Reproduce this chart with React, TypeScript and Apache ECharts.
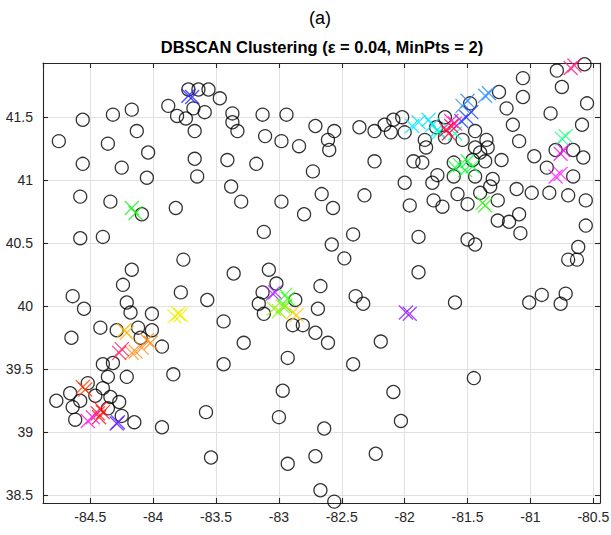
import React, { useEffect, useRef } from "react";
import * as echarts from "echarts";

const SUPTITLE = "(a)";
const TITLE = "DBSCAN Clustering (ε = 0.04, MinPts = 2)";

const LON_MIN = -84.876;
const LON_MAX = -80.447;
const LAT_MIN = 38.439;
const LAT_MAX = 41.93;

// Noise points (longitude, latitude) drawn as open circles
const noisePoints: [number, number][] = [
  [-84.75, 41.31], [-84.56, 41.48], [-84.32, 41.52], [-84.17, 41.56], [-84.36, 41.29],
  [-84.13, 41.39], [-84.04, 41.22], [-84.56, 41.13], [-84.25, 41.1], [-84.05, 41.02],
  [-84.58, 40.87], [-84.34, 40.83], [-84.09, 40.73], [-83.82, 40.78], [-84.58, 40.54],
  [-84.4, 40.55], [-83.76, 40.37], [-84.17, 40.29], [-84.24, 40.17], [-83.72, 41.72],
  [-83.64, 41.72], [-83.56, 41.72], [-83.47, 41.65], [-83.88, 41.59], [-83.81, 41.51],
  [-83.74, 41.49], [-83.68, 41.57], [-83.59, 41.54], [-83.67, 41.39], [-83.67, 41.17],
  [-83.65, 41.03], [-83.37, 41.53], [-83.37, 41.46], [-83.33, 41.39], [-83.41, 41.16],
  [-83.38, 40.95], [-83.3, 40.83], [-83.36, 40.26], [-83.13, 41.52], [-82.94, 41.52],
  [-83.11, 41.35], [-82.98, 41.31], [-82.84, 41.27], [-83.18, 41.13], [-82.71, 41.43],
  [-82.56, 41.39], [-82.61, 41.32], [-82.6, 41.24], [-82.73, 41.07], [-82.36, 41.42],
  [-82.24, 41.39], [-82.16, 41.44], [-82.11, 41.38], [-82.09, 41.48], [-82.02, 41.5],
  [-82.0, 41.38], [-82.24, 41.15], [-82.98, 40.83], [-82.8, 40.73], [-82.66, 40.89],
  [-82.57, 40.78], [-82.32, 40.88], [-82.0, 40.98], [-81.96, 40.8], [-83.12, 40.59],
  [-82.58, 40.49], [-82.48, 40.38], [-82.41, 40.57], [-83.08, 40.29], [-83.02, 40.18],
  [-82.67, 40.16], [-81.89, 40.55], [-81.89, 40.27], [-81.84, 41.32], [-81.83, 41.26],
  [-81.93, 41.15], [-81.86, 41.14], [-81.78, 40.98], [-81.74, 41.04], [-81.77, 40.84],
  [-81.7, 40.79], [-81.58, 40.89], [-81.5, 40.81], [-81.4, 40.9], [-81.32, 40.95],
  [-81.3, 41.01], [-81.44, 41.03], [-81.61, 41.03], [-81.61, 41.14], [-81.46, 41.16],
  [-81.4, 41.22], [-81.44, 41.26], [-81.34, 41.26], [-81.35, 41.32], [-81.36, 41.15],
  [-81.23, 41.16], [-81.44, 41.39], [-81.68, 41.34], [-81.54, 41.32], [-81.68, 41.5],
  [-81.48, 41.61], [-81.25, 41.7], [-81.19, 41.57], [-81.14, 41.44], [-81.09, 41.31],
  [-81.06, 41.81], [-81.06, 41.66], [-80.97, 41.19], [-80.87, 41.1], [-80.8, 41.24],
  [-80.84, 41.53], [-80.75, 41.74], [-80.79, 41.87], [-80.57, 41.92], [-80.55, 41.61],
  [-80.59, 41.44], [-80.66, 41.24], [-80.58, 41.18], [-80.66, 41.03], [-80.7, 40.88],
  [-80.56, 40.84], [-80.85, 40.9], [-80.99, 40.9], [-81.11, 40.93], [-81.26, 40.84],
  [-81.26, 40.68], [-81.17, 40.67], [-81.09, 40.73], [-81.08, 40.58], [-80.56, 40.64],
  [-80.62, 40.47], [-80.7, 40.37], [-80.63, 40.37], [-81.5, 40.53], [-81.44, 40.49],
  [-81.75, 41.42], [-84.64, 40.08], [-84.55, 39.98], [-84.21, 40.03], [-84.18, 39.95],
  [-84.42, 39.83], [-84.65, 39.75], [-84.29, 39.81], [-84.12, 39.83], [-84.01, 39.94],
  [-84.01, 39.81], [-83.93, 39.68], [-84.1, 39.75], [-83.78, 40.11], [-83.57, 40.05],
  [-83.44, 39.88], [-83.44, 39.54], [-83.84, 39.46], [-84.4, 39.54], [-84.32, 39.55],
  [-84.36, 39.44], [-84.21, 39.44], [-84.4, 39.35], [-84.52, 39.39], [-84.66, 39.31],
  [-84.77, 39.25], [-84.58, 39.25], [-84.64, 39.2], [-84.46, 39.29], [-84.34, 39.28],
  [-84.27, 39.24], [-84.25, 39.13], [-84.62, 39.1], [-84.15, 39.08], [-83.93, 39.04],
  [-83.58, 39.16], [-83.54, 38.8], [-84.36, 39.19], [-83.13, 40.11], [-83.16, 40.02],
  [-83.12, 39.94], [-82.87, 40.05], [-82.89, 39.85], [-82.81, 39.85], [-82.71, 39.79],
  [-82.61, 39.71], [-82.69, 39.98], [-83.28, 39.71], [-82.93, 39.59], [-82.97, 39.33],
  [-83.0, 39.12], [-82.64, 39.03], [-82.71, 38.81], [-82.93, 38.75], [-82.67, 38.54],
  [-82.56, 38.45], [-82.39, 40.08], [-82.33, 40.02], [-82.19, 39.72], [-82.41, 39.54],
  [-82.09, 39.32], [-82.03, 39.09], [-82.23, 38.83], [-81.6, 40.03], [-81.01, 40.03],
  [-80.91, 40.09], [-80.72, 40.1], [-80.76, 40.02], [-81.45, 39.43],
];

// Cluster colours and member points (longitude, latitude), drawn as crosses
const clusterColors: string[] = [
  "#1f1fff", "#1aee1a", "#00e5ff", "#00ffb0", "#2b8cff", "#1f3cff", "#ff1ab3",
  "#ff0040", "#00ff33", "#33ee1a", "#1aff80", "#e61ae6", "#ff1aff", "#ff1a80",
  "#eeee00", "#ffb300", "#ff8c1a", "#ff1a5e", "#ff3d0a", "#ff0d0d", "#ff1aeb",
  "#5c1aff", "#a31aff", "#29ff1a", "#99ee11", "#ffcc1a", "#8c1aff",
];

const clusterPoints: [number, number][][] = [
  [[-83.72, 41.67], [-83.69, 41.66]],
  [[-84.17, 40.78], [-84.14, 40.74]],
  [[-81.94, 41.43], [-81.89, 41.46], [-81.81, 41.48], [-81.78, 41.44], [-81.74, 41.4]],
  [[-81.73, 41.38], [-81.6, 41.37]],
  [[-81.54, 41.59], [-81.5, 41.63], [-81.36, 41.67], [-81.33, 41.69]],
  [[-81.51, 41.5], [-81.47, 41.54], [-81.55, 41.47]],
  [[-81.63, 41.47], [-81.6, 41.45]],
  [[-81.67, 41.4], [-81.63, 41.43], [-81.65, 41.37]],
  [[-81.56, 41.12], [-81.5, 41.15], [-81.52, 41.08], [-81.46, 41.11], [-81.6, 41.1]],
  [[-81.38, 40.82], [-81.36, 40.8]],
  [[-80.75, 41.33], [-80.72, 41.35]],
  [[-80.76, 41.21], [-80.74, 41.24]],
  [[-80.8, 41.03], [-80.76, 41.05]],
  [[-80.68, 41.89], [-80.65, 41.91]],
  [[-83.83, 39.92], [-83.8, 39.94], [-83.78, 39.93]],
  [[-84.23, 39.81], [-84.21, 39.79]],
  [[-84.05, 39.73], [-84.02, 39.71], [-84.09, 39.67], [-84.17, 39.63], [-84.14, 39.64]],
  [[-84.27, 39.63], [-84.25, 39.66]],
  [[-84.56, 39.36], [-84.54, 39.34]],
  [[-84.44, 39.15], [-84.42, 39.19], [-84.4, 39.16], [-84.43, 39.12]],
  [[-84.52, 39.09], [-84.48, 39.12]],
  [[-84.29, 39.07], [-84.28, 39.08]],
  [[-83.05, 40.1], [-83.03, 40.11]],
  [[-82.95, 40.09], [-82.93, 40.06], [-82.95, 40.0]],
  [[-83.04, 39.98], [-83.0, 39.96], [-82.97, 40.0]],
  [[-82.89, 39.95], [-82.86, 39.93]],
  [[-81.99, 39.95], [-81.96, 39.94]],
];

const FONT = "'Liberation Sans', Arial, Helvetica, sans-serif";
const AXIS_COLOR = "#262626";

function halfStep(v: number): string {
  return Math.abs(v * 2 - Math.round(v * 2)) < 1e-6 ? String(Math.round(v * 2) / 2) : "";
}

export default function App() {
  const ref = useRef<HTMLDivElement | null>(null);

  useEffect(() => {
    if (!ref.current) return;
    const chart = echarts.init(ref.current, undefined, { renderer: "svg" });

    const baseX = {
      type: "value" as const,
      min: LON_MIN,
      max: LON_MAX,
      splitNumber: 9,
      scale: true,
    };
    const baseY = {
      type: "value" as const,
      min: LAT_MIN,
      max: LAT_MAX,
      splitNumber: 7,
      scale: true,
    };
    const lineStyle = { color: AXIS_COLOR, width: 1.1 };

    const crossSeries = clusterPoints.map((pts, i) => ({
      type: "scatter" as const,
      data: pts,
      symbol: "path://M0,0L10,10M10,0L0,10",
      symbolSize: 14,
      itemStyle: {
        color: "transparent",
        borderColor: clusterColors[i],
        borderWidth: 1.3,
      },
      z: 3,
    }));

    chart.setOption({
      animation: false,
      backgroundColor: "#ffffff",
      grid: {
        left: 43,
        right: 11,
        top: 63,
        bottom: 32,
        containLabel: false,
        outerBoundsMode: "none",
      },
      graphic: [
        {
          type: "text",
          x: 320,
          y: 18,
          style: {
            text: SUPTITLE,
            fill: "#000000",
            font: `18px ${FONT}`,
            align: "center",
            verticalAlign: "middle",
            textAlign: "center",
            textVerticalAlign: "middle",
          },
        },
        {
          type: "text",
          x: 322,
          y: 47,
          style: {
            text: TITLE,
            fill: "#000000",
            font: `bold 16.5px ${FONT}`,
            align: "center",
            verticalAlign: "middle",
            textAlign: "center",
            textVerticalAlign: "middle",
          },
        },
      ],
      xAxis: [
        {
          ...baseX,
          position: "bottom",
          axisLine: { show: true, onZero: false, lineStyle },
          axisTick: { show: true, inside: true, length: 5, lineStyle },
          axisLabel: {
            show: true,
            color: AXIS_COLOR,
            fontSize: 14,
            fontFamily: FONT,
            margin: 7,
            showMinLabel: false,
            showMaxLabel: false,
            formatter: (v: number) => halfStep(v),
          },
          splitLine: { show: true, lineStyle: { color: "#e1e1e1", width: 1 } },
        },
        {
          ...baseX,
          position: "top",
          axisLine: { show: true, onZero: false, lineStyle },
          axisTick: { show: true, inside: true, length: 5, lineStyle },
          axisLabel: { show: false },
          splitLine: { show: false },
        },
      ],
      yAxis: [
        {
          ...baseY,
          position: "left",
          axisLine: { show: true, onZero: false, lineStyle },
          axisTick: { show: true, inside: true, length: 5, lineStyle },
          axisLabel: {
            show: true,
            color: AXIS_COLOR,
            fontSize: 14,
            fontFamily: FONT,
            margin: 10,
            showMinLabel: false,
            showMaxLabel: false,
            formatter: (v: number) => halfStep(v),
          },
          splitLine: { show: true, lineStyle: { color: "#e1e1e1", width: 1 } },
        },
        {
          ...baseY,
          position: "right",
          axisLine: { show: true, onZero: false, lineStyle },
          axisTick: { show: true, inside: true, length: 5, lineStyle },
          axisLabel: { show: false },
          splitLine: { show: false },
        },
      ],
      series: [
        {
          type: "scatter",
          data: noisePoints,
          symbol: "circle",
          symbolSize: 13,
          itemStyle: {
            color: "transparent",
            borderColor: "#000000",
            borderWidth: 1.3,
          },
          z: 2,
        },
        ...crossSeries,
      ],
    });

    return () => {
      chart.dispose();
    };
  }, []);

  return (
    <div
      ref={ref}
      style={{ position: "fixed", left: 0, top: 0, width: 611, height: 535, background: "#fff" }}
    />
  );
}
